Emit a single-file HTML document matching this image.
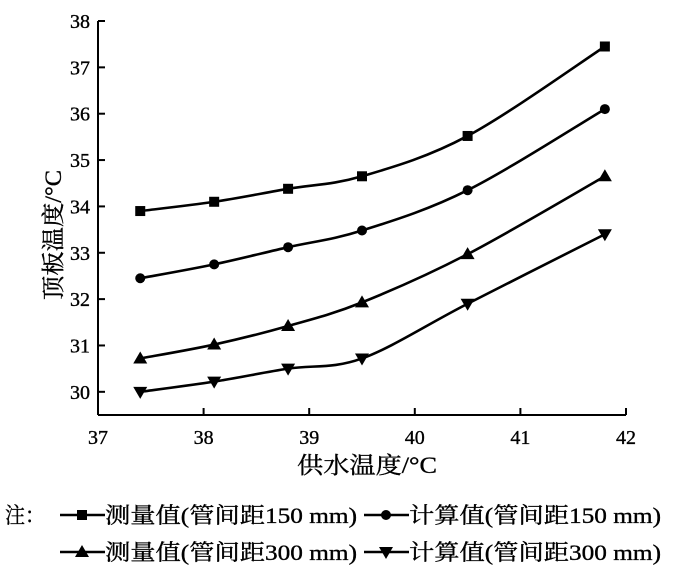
<!DOCTYPE html>
<html><head><meta charset="utf-8"><style>
body{margin:0;background:#fff;}
svg{display:block;font-family:"Liberation Serif","Noto Serif CJK SC",serif;}
text{stroke:#000;stroke-width:0.35;}
</style></head><body>
<svg id="chart" width="700" height="581" viewBox="0 0 700 581">
<g id="axes"></g>
<g id="series"></g>
<text x="0" y="0" transform="translate(61,235) rotate(-90)" text-anchor="middle" font-size="23" textLength="130" lengthAdjust="spacingAndGlyphs">顶板温度/°C</text>
<text x="297" y="473" font-size="23" textLength="140" lengthAdjust="spacingAndGlyphs">供水温度/°C</text>
<g id="legend"></g>
</svg>
<script>
const xs=[37.4,38.1,38.8,39.5,40.5,41.8];
const s1=[33.9,34.1,34.38,34.65,35.52,37.45];
const s2=[32.45,32.75,33.12,33.48,34.35,36.1];
const s3=[30.72,31.02,31.42,31.93,32.97,34.65];
const s4=[30.0,30.22,30.5,30.72,31.9,33.4];
const xTicks=[37,38,39,40,41,42];
const yTicks=[30,31,32,33,34,35,36,37,38];
const labels=["测量值(管间距150 mm)","计算值(管间距150 mm)","测量值(管间距300 mm)","计算值(管间距300 mm)"];
const NS="http://www.w3.org/2000/svg";
const X0=98,X1=626,Y0=415,Yt=21;
const sx=v=>X0+(v-37)/5*(X1-X0);
const sy=v=>Y0-(v-29.5)/8.5*(Y0-Yt);
function el(t,a,p){const e=document.createElementNS(NS,t);for(const k in a)e.setAttribute(k,a[k]);p.appendChild(e);return e;}
const ax=document.getElementById('axes');
const yl=el('line',{x1:X0,y1:Y0,x2:X0,y2:Yt,stroke:'#000','stroke-width':2},ax);


const xl=el('line',{x1:X0,y1:Y0,x2:X1,y2:Y0,stroke:'#000','stroke-width':2},ax);


xTicks.forEach(v=>{
 if(v>37){const t=el('line',{x1:sx(v),y1:Y0,x2:sx(v),y2:Y0-7,stroke:'#000','stroke-width':2},ax);
 
 }
 const l=el('text',{x:sx(v),y:Y0+29,'text-anchor':'middle','font-size':20},ax);l.textContent=v;
 
 
});
yTicks.forEach(v=>{
 const t=el('line',{x1:X0,y1:sy(v),x2:X0+7,y2:sy(v),stroke:'#000','stroke-width':2},ax);
 
 
 const l=el('text',{x:X0-8,y:sy(v)+7,'text-anchor':'end','font-size':20},ax);l.textContent=v;
 
 
});
function marker(type,x,y,p){
 let m;
 if(type==0)m=el('rect',{x:x-5,y:y-5,width:10,height:10,fill:'#000'},p);
 else if(type==1)m=el('circle',{cx:x,cy:y,r:5,fill:'#000'},p);
 else if(type==2)m=el('polygon',{points:`${x},${y-7} ${x-7},${y+5} ${x+7},${y+5}`,fill:'#000'},p);
 else m=el('polygon',{points:`${x},${y+7} ${x-7},${y-5} ${x+7},${y-5}`,fill:'#000'},p);
 return m;
}
const sg=document.getElementById('series');
[s1,s2,s3,s4].forEach((s,k)=>{
 const P=xs.map((x,i)=>[sx(x),sy(s[i])]);
 let d=`M${P[0][0]},${P[0][1]}`;
 for(let i=0;i<P.length-1;i++){
  const p0=P[Math.max(0,i-1)],p1=P[i],p2=P[i+1],p3=P[Math.min(P.length-1,i+2)];
  const c1=[p1[0]+(p2[0]-p0[0])/6,p1[1]+(p2[1]-p0[1])/6];
  const c2=[p2[0]-(p3[0]-p1[0])/6,p2[1]-(p3[1]-p1[1])/6];
  d+=` C${c1[0]},${c1[1]} ${c2[0]},${c2[1]} ${p2[0]},${p2[1]}`;
 }
 const path=el('path',{d:d,fill:'none',stroke:'#000','stroke-width':2.6},sg);
 
 
 P.forEach(p=>{const m=marker(k,p[0],p[1],sg);
  
  });
});
const lg=document.getElementById('legend');
const note=el('text',{x:5,y:523,'font-size':22,textLength:40,lengthAdjust:'spacingAndGlyphs'},lg);note.textContent='注：';


const pos=[[60,515],[364,515],[60,552],[364,552]];
pos.forEach((p,k)=>{
 const g=el('g',{},lg);
 
 
 el('line',{x1:p[0],y1:p[1],x2:p[0]+45,y2:p[1],stroke:'#000','stroke-width':2.6},g);
 marker(k,p[0]+22,p[1],g);
 const t=el('text',{x:p[0]+45,y:p[1]+8,'font-size':22,textLength:252,lengthAdjust:'spacingAndGlyphs'},g);t.textContent=labels[k];
});
</script>
</body></html>
